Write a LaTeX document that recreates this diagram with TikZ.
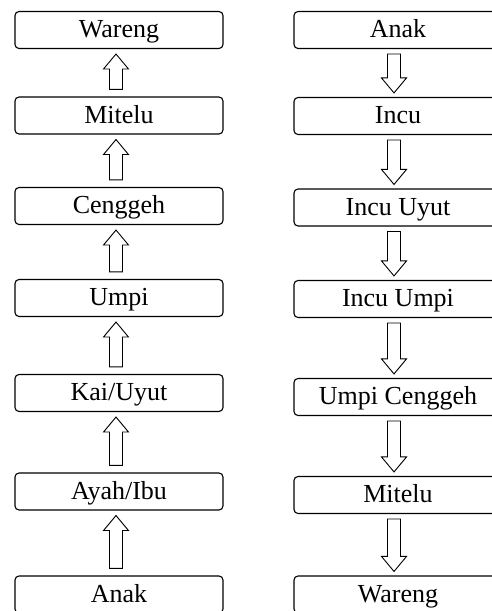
\documentclass[tikz,border=0pt]{standalone}
\usepackage{fontspec}
\setmainfont{Liberation Serif}
\usetikzlibrary{calc}
\tikzset{kin/.style={draw, rounded corners=4pt, line width=1.1pt, minimum width=208pt,
    minimum height=37pt, inner sep=0pt, text height=19pt, text depth=3pt,
    font=\fontsize{26}{30}\selectfont}}
\tikzset{blockarr/.style={draw, line width=0.9pt, fill=white, line join=miter}}
\newcommand{\kinarrow}[1]{% #1 = head length, signed
    \draw[blockarr]($(tail)+(-6.5,0)$)--($(tip)+(-6.5,#1)$)--($(tip)+(-12.5,#1)$)--(tip)
        --($(tip)+(12.5,#1)$)--($(tip)+(6.5,#1)$)--($(tail)+(6.5,0)$)--cycle;}
\newcommand{\upconn}[2]{%
    \coordinate(tail)at($(#1.north)+(-3,7)$);
    \coordinate(tip)at($(#2.south)+(-3,-5)$);
    \kinarrow{-15}}
\newcommand{\downconn}[2]{%
    \coordinate(tail)at($(#1.south)+(-4,-5)$);
    \coordinate(tip)at($(#2.north)+(-4,4)$);
    \kinarrow{15}}

\begin{document}
\begin{tikzpicture}[x=1pt,y=1pt]
    \useasboundingbox(0,0)rectangle(491,611);

    % ancestors
    \node[kin](warengL)at(119,581){Wareng};
    \node[kin](miteluL)at(119,495.5){Mitelu};
    \node[kin](cenggehL)at(119,405){Cenggeh};
    \node[kin](umpiL)at(119,313){Umpi};
    \node[kin](kaiL)at(119,218){Kai/Uyut};
    \node[kin](ayahL)at(119,119.5){Ayah/Ibu};
    \node[kin](anakL)at(119,16.5){Anak};

    \upconn{anakL}{ayahL}
    \upconn{ayahL}{kaiL}
    \upconn{kaiL}{umpiL}
    \upconn{umpiL}{cenggehL}
    \upconn{cenggehL}{miteluL}
    \upconn{miteluL}{warengL}

    % descendants
    \node[kin](anakR)at(398,581){Anak};
    \node[kin](incuR)at(398,495){Incu};
    \node[kin](incuuyutR)at(398,403.5){Incu Uyut};
    \node[kin](incuumpiR)at(398,312){Incu Umpi};
    \node[kin](umpicenggehR)at(398,214){Umpi Cenggeh};
    \node[kin](miteluR)at(398,116){Mitelu};
    \node[kin](warengR)at(398,16.5){Wareng};

    \downconn{anakR}{incuR}
    \downconn{incuR}{incuuyutR}
    \downconn{incuuyutR}{incuumpiR}
    \downconn{incuumpiR}{umpicenggehR}
    \downconn{umpicenggehR}{miteluR}
    \downconn{miteluR}{warengR}
\end{tikzpicture}
\end{document}
